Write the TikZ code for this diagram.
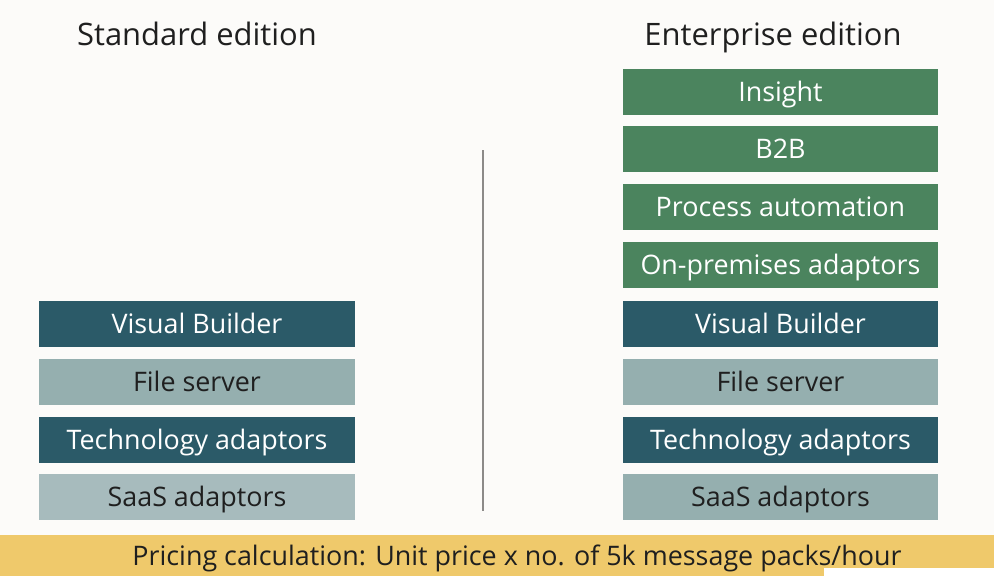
\documentclass[tikz,border=0pt]{standalone}
\usepackage{fontspec}
\setmainfont{Open Sans}
\usepackage{tikz}
\usetikzlibrary{positioning}

\definecolor{PageBg}{HTML}{FCFBF9}
\definecolor{DarkTeal}{HTML}{2B5A68}
\definecolor{LightTeal}{HTML}{95AFAF}
\definecolor{PaleTeal}{HTML}{A7BBBD}
\definecolor{EntGreen}{HTML}{4B845E}
\definecolor{BarGold}{HTML}{EFC96B}
\definecolor{RuleGray}{HTML}{8C8A88}

\begin{document}
\begin{tikzpicture}[x=0.02cm, y=-0.02cm]
		\tikzstyle{Box}		= [rectangle, minimum width=6.32cm, minimum height=0.92cm, inner sep=0pt, text height=10.9pt, text depth=0pt, font=\fontsize{15.3}{18}\selectfont]
		\tikzstyle{Dark}	= [fill=DarkTeal, text=white]
		\tikzstyle{Light}	= [fill=LightTeal, text=black!88]
		\tikzstyle{Pale}	= [fill=PaleTeal, text=black!88]
		\tikzstyle{Green}	= [fill=EntGreen, text=white]
		\tikzstyle{Title}	= [anchor=base, font=\fontsize{17.6}{20}\selectfont, text=black!88]

		\fill [PageBg] (0,0) rectangle (994,576);
		\useasboundingbox (0,0) rectangle (994,576);

		% titles
		\node (std) at (197,45) [Title] {Standard edition};
		\node (ent) at (773,45) [Title] {Enterprise edition};

		% standard edition
		\node (s1) at (197,323.5) [Box][Dark] {Visual Builder};
		\node (s2) at (197,381.5) [Box][Light] {File server};
		\node (s3) at (197,439.5) [Box][Dark] {Technology adaptors};
		\node (s4) at (197,496.5) [Box][Pale] {SaaS adaptors};

		% enterprise edition
		\node (e1) at (780.5,92) [Box][Green] {Insight};
		\node (e2) at (780.5,149) [Box][Green] {B2B};
		\node (e3) at (780.5,207) [Box][Green] {Process automation};
		\node (e4) at (780.5,265) [Box][Green] {On-premises adaptors};
		\node (e5) at (780.5,323.5) [Box][Dark] {Visual Builder};
		\node (e6) at (780.5,381.5) [Box][Light] {File server};
		\node (e7) at (780.5,439.5) [Box][Dark] {Technology adaptors};
		\node (e8) at (780.5,496.5) [Box][Light] {SaaS adaptors};

		% divider
		\coordinate (top) at (483,150);
		\coordinate (bot) at (483,511);
		\draw [RuleGray, line width=1.7pt] (top) -- (bot);

		% pricing bar
		\fill [BarGold] (0,535) rectangle (994,576);
		\node (price) at (517,556) [inner sep=0pt, text height=10.9pt, text depth=0pt, font=\fontsize{15.3}{18}\selectfont, text=black!88] {Pricing calculation: Unit price x no. of 5k message packs/hour};
		\fill [white] (824,568) rectangle (994,576);
	\end{tikzpicture}
\end{document}
